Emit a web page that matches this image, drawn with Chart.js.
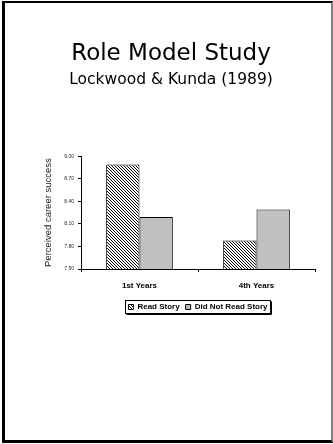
<!DOCTYPE html>
<html>
<head>
<meta charset="utf-8">
<script src="https://cdn.jsdelivr.net/npm/chart.js@4"></script>
<style>
  html, body { margin: 0; padding: 0; background: #fff; }
  #slide {
    position: absolute; left: 2px; top: 1px;
    width: 331px; height: 442px; box-sizing: border-box;
    border-left: 3px solid #000; border-top: 2px solid #000;
    border-bottom: 3px solid #000; border-right: 2px solid #808080;
  }
  #chart { position: absolute; left: 0; top: 0; }
</style>
</head>
<body>
<div id="slide"></div>
<canvas id="chart" width="333" height="444"></canvas>
<script>
// data
const categories = ['1st Years', '4th Years'];
const readStory = [8.89, 7.88];
const didNotRead = [8.19, 8.29];
const seriesNames = ['Read Story', 'Did Not Read Story'];
const yMin = 7.5, yMax = 9.0, yStep = 0.3;

// hatch fill for the "read story" bars
const hatchCanvas = document.createElement('canvas');
hatchCanvas.width = 3;
hatchCanvas.height = 3;
const hctx = hatchCanvas.getContext('2d');
hctx.fillStyle = '#fff';
hctx.fillRect(0, 0, 3, 3);
hctx.fillStyle = '#000';
for (let i = 0; i < 3; i++) hctx.fillRect(i, i, 1, 1);
const hatch = document.getElementById('chart').getContext('2d').createPattern(hatchCanvas, 'repeat');

// box round the legend
const legendBox = {
    id: 'legendBox',
    afterDraw(chart) {
        const hb = chart.legend.legendHitBoxes;
        if (!hb || !hb.length) return;
        const first = hb[0], last = hb[hb.length - 1];
        const x1 = Math.round(first.left) - 2.5;
        const x2 = Math.round(last.left + last.width) + 2.5;
        const y1 = Math.round(first.top) - 2.5;
        const y2 = Math.round(first.top + first.height) + 2.5;
        const c = chart.ctx;
        c.save();
        c.strokeStyle = '#000';
        c.lineWidth = 1;
        c.strokeRect(x1, y1, x2 - x1, y2 - y1);
        c.beginPath();
        c.moveTo(x2 + 1, y1 + 1); c.lineTo(x2 + 1, y2 + 1); c.lineTo(x1 + 1, y2 + 1);
        c.stroke();
        c.restore();
    }
};

new Chart(document.getElementById('chart'), {
    type: 'bar',
    data: {
        labels: categories,
        datasets: [
            {
                label: seriesNames[0],
                data: readStory,
                backgroundColor: hatch,
                borderColor: '#000',
                borderWidth: 1,
                borderSkipped: false,
            },
            {
                label: seriesNames[1],
                data: didNotRead,
                backgroundColor: '#c0c0c0',
                borderColor: '#000',
                borderWidth: 1,
                borderSkipped: false,
            }
        ]
    },
    options: {
        responsive: false,
        animation: false,
        events: [],
        categoryPercentage: 0.57,
        barPercentage: 1,
        layout: { padding: { left: 27, right: 18, top: 0, bottom: 123 } },
        plugins: {
            title: {
                display: true,
                text: 'Role Model Study',
                color: '#000',
                font: { family: "'Comic Sans MS', 'DejaVu Sans', sans-serif", size: 23, weight: 'normal' },
                padding: { top: 40, bottom: 3 },
            },
            subtitle: {
                display: true,
                text: 'Lockwood & Kunda (1989)',
                color: '#000',
                font: { family: "'Comic Sans MS', 'DejaVu Sans', sans-serif", size: 15.5 },
                padding: { top: 0, bottom: 67 },
            },
            legend: {
                position: 'bottom',
                fullSize: false,
                labels: {
                    color: '#000',
                    boxWidth: 5,
                    boxHeight: 5,
                    padding: 6,
                    font: { family: "'Liberation Sans', Arial, sans-serif", size: 8, weight: 'bold' },
                }
            },
            tooltip: { enabled: false },
        },
        scales: {
            x: {
                grid: { drawOnChartArea: false, color: '#000', tickLength: 3, offset: true },
                border: { color: '#000', width: 1 },
                ticks: {
                    color: '#000',
                    padding: 9,
                    font: { family: "'Liberation Sans', Arial, sans-serif", size: 8, weight: 'bold' },
                },
                afterFit: axis => { axis.height = 28; },
            },
            y: {
                min: yMin,
                max: yMax,
                grid: { drawOnChartArea: false, color: '#000', tickLength: 3 },
                border: { color: '#000', width: 1 },
                ticks: {
                    stepSize: yStep,
                    color: '#222',
                    padding: 4,
                    font: { family: "'Liberation Sans', Arial, sans-serif", size: 5 },
                    callback: v => v.toFixed(2),
                },
                title: {
                    display: true,
                    text: 'Perceived career success',
                    color: '#222',
                    font: { family: "'Liberation Sans', Arial, sans-serif", size: 9.5 },
                    padding: { top: 16, bottom: 0 },
                },
                afterFit: axis => { axis.width = 54; },
            }
        }
    },
    plugins: [legendBox]
});
</script>
</body>
</html>
